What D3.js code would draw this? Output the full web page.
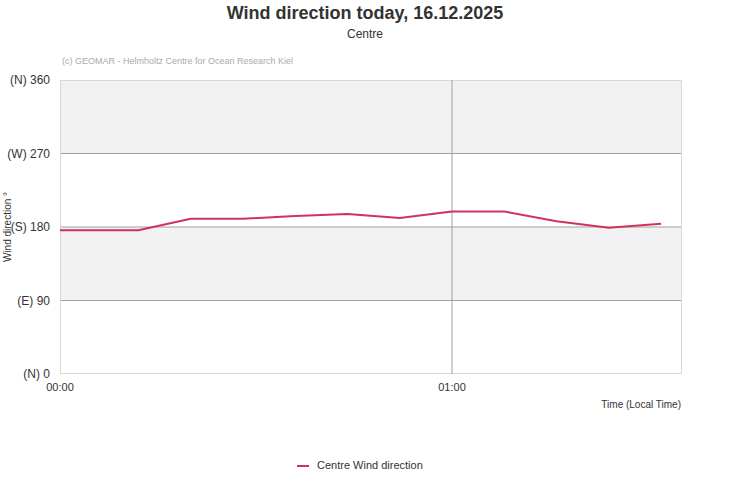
<!DOCTYPE html>
<html><head><meta charset="utf-8">
<script src="https://cdn.jsdelivr.net/npm/d3@7"></script>
<style>body{margin:0;background:#fff;font-family:"Liberation Sans",Arial,sans-serif}</style>
</head><body><svg id="c" width="731" height="500"></svg>
<script>
const minutes = [0,12,20,28,36,44,52,60,68,76,84,92];
const directions = [176,176,190,190,193.5,196,191,199,199,187,179,184];
const yTicks = [0,90,180,270,360];
const yTickLabels = ["(N) 0","(E) 90","(S) 180","(W) 270","(N) 360"];
const xTicks = [0,60];
const xTickLabels = ["00:00","01:00"];
const seriesName = "Centre Wind direction";

const svg = d3.select("#c");
const L=60,R=682,T=80,B=374;
const x = d3.scaleLinear().domain([0,95.2]).range([L,R]);
const y = d3.scaleLinear().domain([0,360]).range([B,T]);

svg.append("rect").attr("x",L).attr("y",T).attr("width",R-L).attr("height",B-T).attr("fill","#fff");
[[270,360],[90,180]].forEach(([a,b])=>svg.append("rect").attr("x",L).attr("y",y(b)).attr("width",R-L).attr("height",y(a)-y(b)).attr("fill","#f2f2f2"));
yTicks.forEach((t,i)=>{
  if(t>0&&t<360) svg.append("line").attr("x1",L).attr("x2",R).attr("y1",y(t)).attr("y2",y(t)).attr("stroke","#a0a0a0");
  svg.append("text").attr("x",L-10).attr("y",y(t)+4).attr("text-anchor","end").attr("font-size",12).attr("fill","#333").text(yTickLabels[i]);
});
svg.append("rect").attr("x",L+0.5).attr("y",T+0.5).attr("width",R-L-1).attr("height",B-T-1).attr("fill","none").attr("stroke","#d8d8d8");
xTicks.forEach((t,i)=>{
  if(t>0) svg.append("line").attr("x1",x(t)).attr("x2",x(t)).attr("y1",T).attr("y2",B).attr("stroke","#a0a0a0");
  svg.append("text").attr("x",x(t)).attr("y",B+17).attr("text-anchor","middle").attr("font-size",11).attr("fill","#333").text(xTickLabels[i]);
});
svg.append("path").datum(minutes.map((m,i)=>[m,directions[i]]))
  .attr("d",d3.line().x(d=>x(d[0])).y(d=>y(d[1]))).attr("fill","none").attr("stroke","#d0325a").attr("stroke-width",2);

svg.append("text").attr("x",365).attr("y",19).attr("text-anchor","middle").attr("font-size",18).attr("font-weight","bold").attr("fill","#333").text("Wind direction today, 16.12.2025");
svg.append("text").attr("x",365).attr("y",38).attr("text-anchor","middle").attr("font-size",12).attr("fill","#333").text("Centre");
svg.append("text").attr("x",62).attr("y",64).attr("font-size",9).attr("fill","#aaa").text("(c) GEOMAR - Helmholtz Centre for Ocean Research Kiel");
svg.append("text").attr("transform","translate(11,227) rotate(-90)").attr("text-anchor","middle").attr("font-size",10).attr("fill","#333").text("Wind direction °");
svg.append("text").attr("x",681).attr("y",408).attr("text-anchor","end").attr("font-size",10).attr("fill","#333").text("Time (Local Time)");
svg.append("line").attr("x1",297).attr("x2",309).attr("y1",466).attr("y2",466).attr("stroke","#d0325a").attr("stroke-width",2);
svg.append("text").attr("x",317).attr("y",469).attr("font-size",11).attr("fill","#333").text(seriesName);
</script></body></html>
